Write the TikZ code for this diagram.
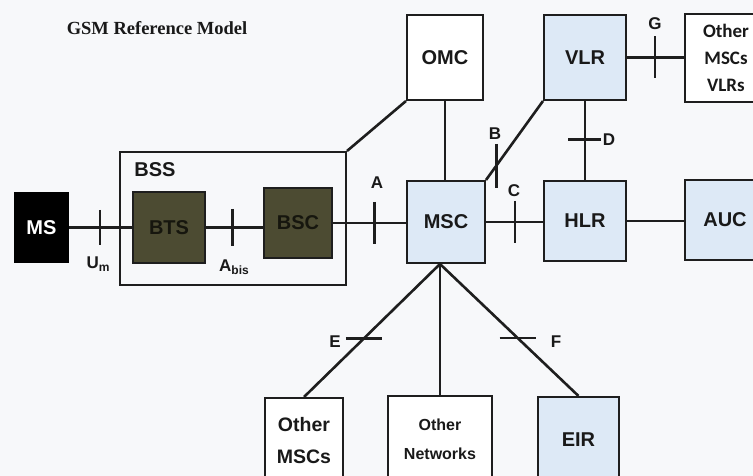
\documentclass[tikz,border=0pt]{standalone}
\usepackage{fontspec}
\setmainfont{Liberation Sans}
\newfontfamily\serifb{Liberation Serif}
\newfontfamily\carl{Carlito}
\definecolor{linec}{RGB}{30,30,30}
\definecolor{textc}{RGB}{25,25,25}
\definecolor{lightblue}{RGB}{221,233,246}
\definecolor{olive}{RGB}{76,75,50}
\definecolor{bgc}{RGB}{247,248,250}
\begin{document}
\begin{tikzpicture}[x=1pt,y=-1pt,
  conn/.style={line width=2.6pt, draw=linec},
  tickmark/.style={line width=2.6pt, draw=linec},
  box/.style={draw=linec, line width=2pt, rectangle, inner sep=0pt, text=textc,
    font=\bfseries\fontsize{20}{24}\selectfont},
  bluebox/.style={box, fill=lightblue},
  whitebox/.style={box, fill=white},
  darkbox/.style={box, fill=olive, text={rgb,255:red,22;green,22;blue,14}},
  lbl/.style={font=\bfseries\fontsize{17}{20}\selectfont, text=textc, inner sep=0pt}]
\useasboundingbox (0,0) rectangle (753,476);
\clip (0,0) rectangle (753,476);
\fill[bgc] (0,0) rectangle (753,476);

% title
\node[inner sep=0pt, text=textc, font=\serifb\bfseries\fontsize{18.5}{22}\selectfont] (title) at (157,28) {GSM Reference Model};

% BSS frame
\node[box, minimum width=226pt, minimum height=133pt] (bss) at (233,218.5) {};
\node[inner sep=0pt, text=textc, font=\bfseries\fontsize{20}{24}\selectfont] (bsslbl) at (155,170) {BSS};

% nodes
\node[box, fill=black, draw=black, text=white, minimum width=53pt, minimum height=69pt] (ms) at (41.5,227.5) {MS};
\node[darkbox, minimum width=72pt, minimum height=71pt] (bts) at (169,227.5) {BTS};
\node[darkbox, minimum width=68pt, minimum height=70pt] (bsc) at (298,223) {BSC};
\node[bluebox, minimum width=78pt, minimum height=82pt] (msc) at (446,222) {MSC};
\node[bluebox, minimum width=82pt, minimum height=80pt] (hlr) at (585,221) {HLR};
\node[bluebox, minimum width=80pt, minimum height=80pt] (auc) at (725,220) {AUC};
\node[whitebox, minimum width=76pt, minimum height=85pt] (omc) at (445,57.5) {OMC};
\node[bluebox, minimum width=82pt, minimum height=85pt] (vlr) at (585,57.5) {VLR};
\node[whitebox, minimum width=82pt, minimum height=88pt, align=center,
  font=\carl\bfseries\fontsize{19}{27}\selectfont] (otherv) at (726,58) {Other\\MSCs\\VLRs};
\node[whitebox, minimum width=78pt, minimum height=86pt, align=center,
  font=\bfseries\fontsize{19.5}{32}\selectfont] (othermsc) at (304,441) {Other\\MSCs};
\node[whitebox, minimum width=104pt, minimum height=86pt, align=center,
  font=\bfseries\fontsize{16}{29}\selectfont] (othernet) at (440,439) {Other\\Networks};
\node[bluebox, minimum width=81pt, minimum height=86pt] (eir) at (578.5,440) {EIR};

% connectors with interface ticks
\draw[conn] (ms.east) -- coordinate[pos=0.49] (tum) (bts.west);
\draw[tickmark] ([yshift=17.5pt]tum) -- ([yshift=-17.5pt]tum);

\draw[conn] (bts.east) -- coordinate[pos=0.46] (tabis) (bts.east -| bsc.west);
\draw[tickmark] ([yshift=18.5pt]tabis) -- ([yshift=-18.5pt]tabis);

\draw[conn] (bsc.east) -- coordinate[pos=0.57] (ta) (bsc.east -| msc.west);
\draw[tickmark] ([yshift=21pt]ta) -- ([yshift=-21pt]ta);

\draw[conn] (msc.east) -- coordinate[pos=0.51] (tc) (msc.east -| hlr.west);
\draw[tickmark] ([yshift=21pt]tc) -- ([yshift=-21pt]tc);

\draw[conn] (hlr.east) -- (hlr.east -| auc.west);

\draw[conn] (vlr.east) -- coordinate[pos=0.49] (tg) (vlr.east -| otherv.west);
\draw[tickmark] ([yshift=21pt]tg) -- ([yshift=-21pt]tg);

\draw[conn] (vlr.south) -- coordinate[pos=0.49] (td) (hlr.north);
\draw[tickmark] ([xshift=-17pt]td) -- ([xshift=16pt]td);

\draw[conn] (vlr.south west) -- coordinate[pos=0.82] (tb) (msc.north east);
\draw[tickmark] ([yshift=22pt]tb) -- ([yshift=-22pt]tb);

\draw[conn] (omc.south west) -- (bss.north east);
\draw[conn] (omc.south) -- (omc.south |- msc.north);

\coordinate (apex) at (msc.south -| othernet.north);
\draw[conn] (apex) -- coordinate[pos=0.56] (te) (othermsc.north);
\draw[tickmark] ([xshift=-18pt]te) -- ([xshift=18pt]te);
\draw[conn] (apex) -- (othernet.north);
\draw[conn] (apex) -- coordinate[pos=0.56] (tf) (eir.north);
\draw[tickmark] ([xshift=-18pt]tf) -- ([xshift=18pt]tf);

% interface labels
\node[lbl] (lum) at (98,264) {U\raisebox{-0.35ex}{\fontsize{12}{12}\selectfont m}};
\node[lbl] (labis) at (234,267) {A\raisebox{-0.35ex}{\fontsize{12}{12}\selectfont bis}};
\node[lbl] (la) at (377,183) {A};
\node[lbl] (lb) at (495,134) {B};
\node[lbl] (lc) at (514,191) {C};
\node[lbl] (ld) at (609,140) {D};
\node[lbl] (lg) at (655,24) {G};
\node[lbl] (le) at (335,342) {E};
\node[lbl] (lf) at (556,342) {F};
\end{tikzpicture}
\end{document}
